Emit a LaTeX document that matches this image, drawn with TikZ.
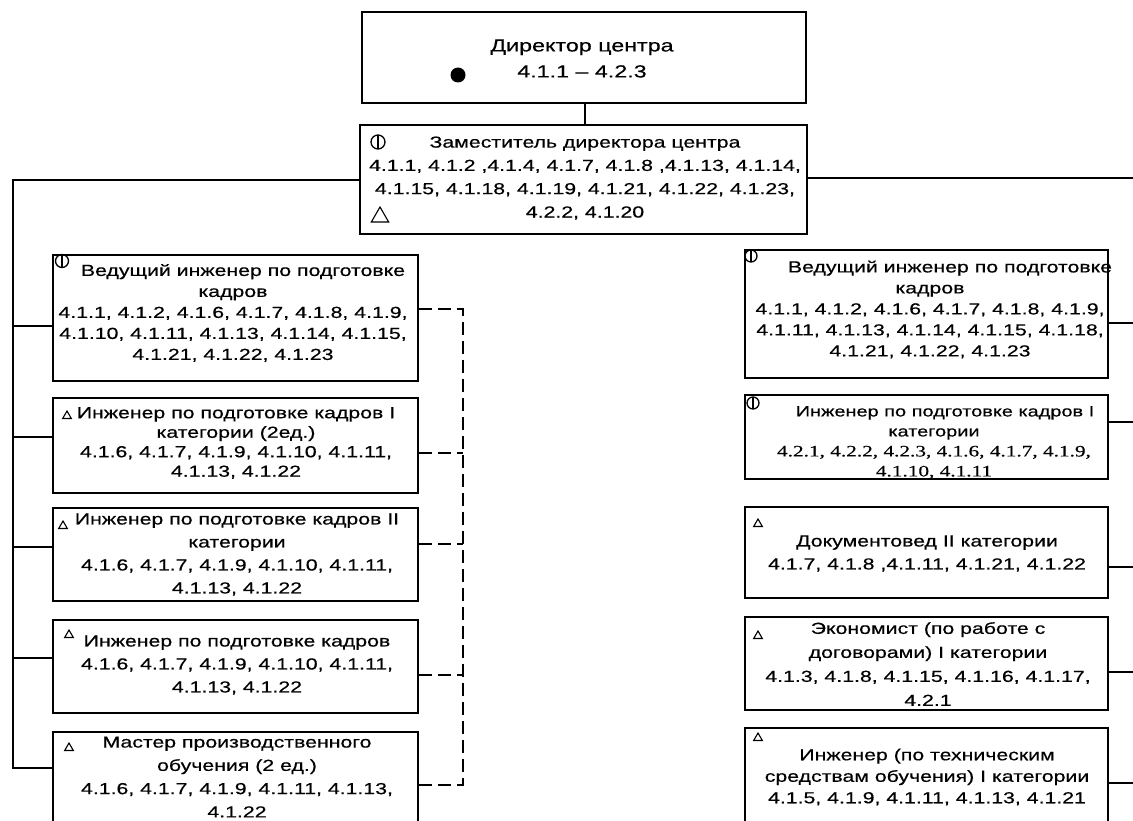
\documentclass[tikz,border=0pt]{standalone}
\usepackage{fontspec}
\setmainfont{Liberation Sans}[FakeStretch=1.33, FakeBold=0.4]
\newfontfamily\tnr{Liberation Serif}[FakeStretch=1.33, FakeBold=0.3]
\usetikzlibrary{shapes.geometric}
\begin{document}
\begin{tikzpicture}[x=1pt,y=-1pt,
  box/.style={draw, line width=1.9pt, inner sep=0pt},
  conn/.style={line width=1.9pt},
  dconn/.style={line width=1.9pt, dash pattern=on 13pt off 6pt},
  txt/.style={align=center, inner sep=0pt},
  phi/.style={circle, draw, line width=1.3pt, minimum size=12pt, inner sep=0pt,
    path picture={\draw[line width=1.3pt] (path picture bounding box.north) -- (path picture bounding box.south);}},
  tri/.style={regular polygon, regular polygon sides=3, draw, line width=1.1pt, inner sep=0pt, minimum size=10pt},
  f16/.style={font=\fontsize{16}{#1}\selectfont},
  f15/.style={font=\fontsize{15}{#1}\selectfont}
]
\useasboundingbox (0,0) rectangle (1133,821);
\fill[white] (0,0) rectangle (1133,821);
\clip (0,0) rectangle (1133,821);

% director
\node[box, minimum width=444, minimum height=91] (dir) at (584,57.5) {};
\node[txt, font=\fontsize{17.5}{26}\selectfont] (dirt) at (582,58.5) {Директор центра\\4.1.1 – 4.2.3};
\node[circle, fill, inner sep=0pt, minimum size=15] (dot) at (458,75) {};

% deputy
\node[box, minimum width=447, minimum height=109] (dep) at (583.5,179.5) {};
\node[txt, f16=23.3] (dept) at (585,178) {Заместитель директора центра\\4.1.1, 4.1.2 ,4.1.4, 4.1.7, 4.1.8 ,4.1.13, 4.1.14,\\4.1.15, 4.1.18, 4.1.19, 4.1.21, 4.1.22, 4.1.23,\\4.2.2, 4.1.20};
\node[phi, minimum size=14] (deps1) at (378,142) {};
\node[tri, minimum size=20] (deps2) at (380,217) {};

% left column
\node[box, minimum width=365, minimum height=126] (l1) at (235.5,318) {};
\node[txt, f16=21] (l1t) at (233,313) {\hspace*{20pt}Ведущий инженер по подготовке\\кадров\hspace*{22pt}\\4.1.1, 4.1.2, 4.1.6, 4.1.7, 4.1.8, 4.1.9,\\4.1.10, 4.1.11, 4.1.13, 4.1.14, 4.1.15,\\4.1.21, 4.1.22, 4.1.23};
\node[phi, minimum size=13] (l1s) at (62,261) {};

\node[box, minimum width=365, minimum height=95] (l2) at (235.5,445.5) {};
\node[txt, f16=19.5] (l2t) at (236,443) {Инженер по подготовке кадров I\\категории (2ед.)\\4.1.6, 4.1.7, 4.1.9, 4.1.10, 4.1.11,\\4.1.13, 4.1.22};
\node[tri] (l2s) at (67,416) {};

\node[box, minimum width=365, minimum height=93] (l3) at (235.5,554.5) {};
\node[txt, f16=23] (l3t) at (237,554.5) {Инженер по подготовке кадров II\\категории\\4.1.6, 4.1.7, 4.1.9, 4.1.10, 4.1.11,\\4.1.13, 4.1.22};
\node[tri] (l3s) at (63,526) {};

\node[box, minimum width=365, minimum height=93] (l4) at (235.5,666.5) {};
\node[txt, f16=23] (l4t) at (237,665) {Инженер по подготовке кадров\\4.1.6, 4.1.7, 4.1.9, 4.1.10, 4.1.11,\\4.1.13, 4.1.22};
\node[tri] (l4s) at (69,635) {};

\node[box, minimum width=365, minimum height=100] (l5) at (235.5,782) {};
\node[txt, f16=23.3] (l5t) at (237,777) {Мастер производственного\\обучения (2 ед.)\\4.1.6, 4.1.7, 4.1.9, 4.1.11, 4.1.13,\\4.1.22};
\node[tri] (l5s) at (69,748) {};

% right column
\node[box, minimum width=363, minimum height=128] (r1) at (926.5,314) {};
\node[txt, f16=21] (r1t) at (930,309.5) {\hspace*{40pt}Ведущий инженер по подготовке\\кадров\\4.1.1, 4.1.2, 4.1.6, 4.1.7, 4.1.8, 4.1.9,\\4.1.11, 4.1.13, 4.1.14, 4.1.15, 4.1.18,\\4.1.21, 4.1.22, 4.1.23};
\node[phi] (r1s) at (751,256) {};

\node[box, minimum width=363, minimum height=84] (r2) at (926.5,437) {};
\node[txt, f15=20] (r2t) at (934,442.5) {\hspace*{22pt}Инженер по подготовке кадров I\\категории\\{\tnr\fontsize{16}{20}\selectfont 4.2.1, 4.2.2, 4.2.3, 4.1.6, 4.1.7, 4.1.9,}\\{\tnr\fontsize{16}{20}\selectfont 4.1.10, 4.1.11}};
\node[phi] (r2s) at (753,403) {};

\node[box, minimum width=363, minimum height=91] (r3) at (926.5,552.5) {};
\node[txt, f16=23] (r3t) at (927,553.5) {Документовед II категории\\4.1.7, 4.1.8 ,4.1.11, 4.1.21, 4.1.22};
\node[tri] (r3s) at (758,524) {};

\node[box, minimum width=363, minimum height=93] (r4) at (926.5,663.5) {};
\node[txt, f16=24] (r4t) at (928,664) {Экономист (по работе с\\договорами) I категории\\4.1.3, 4.1.8, 4.1.15, 4.1.16, 4.1.17,\\4.2.1};
\node[tri] (r4s) at (758,636) {};

\node[box, minimum width=363, minimum height=106] (r5) at (926.5,781) {};
\node[txt, f16=21.5] (r5t) at (927,777) {Инженер (по техническим\\средствам обучения) I категории\\4.1.5, 4.1.9, 4.1.11, 4.1.13, 4.1.21};
\node[tri] (r5s) at (758,738) {};

% connectors
\draw[conn] (dir.south -| dept) -- (dep.north -| dept);

\coordinate (lt) at (13,180);
\coordinate (lb) at (13,768);
\draw[conn] (dep.west |- lt) -- (lt) -- (lb) -- (l5.west |- lb);
\coordinate (lc1) at (13,326);
\coordinate (lc2) at (13,437);
\coordinate (lc3) at (13,547);
\coordinate (lc4) at (13,658);
\draw[conn] (lc1) -- (l1.west |- lc1);
\draw[conn] (lc2) -- (l2.west |- lc2);
\draw[conn] (lc3) -- (l3.west |- lc3);
\draw[conn] (lc4) -- (l4.west |- lc4);

\coordinate (rt) at (1133,178);
\draw[conn] (dep.east |- rt) -- (rt);
\coordinate (rc1) at (1133,323);
\coordinate (rc2) at (1133,422);
\coordinate (rc3) at (1133,567);
\coordinate (rc4) at (1133,672);
\coordinate (rc5) at (1133,783);
\draw[conn] (r1.east |- rc1) -- (rc1);
\draw[conn] (r2.east |- rc2) -- (rc2);
\draw[conn] (r3.east |- rc3) -- (rc3);
\draw[conn] (r4.east |- rc4) -- (rc4);
\draw[conn] (r5.east |- rc5) -- (rc5);

\coordinate (dt) at (463,309);
\coordinate (db) at (463,785);
\draw[dconn] (l1.east |- dt) -- (dt) -- (db) -- (l5.east |- db);
\coordinate (dc2) at (463,453);
\coordinate (dc3) at (463,544);
\coordinate (dc4) at (463,675);
\draw[dconn] (l2.east |- dc2) -- (dc2);
\draw[dconn] (l3.east |- dc3) -- (dc3);
\draw[dconn] (l4.east |- dc4) -- (dc4);
\end{tikzpicture}
\end{document}
